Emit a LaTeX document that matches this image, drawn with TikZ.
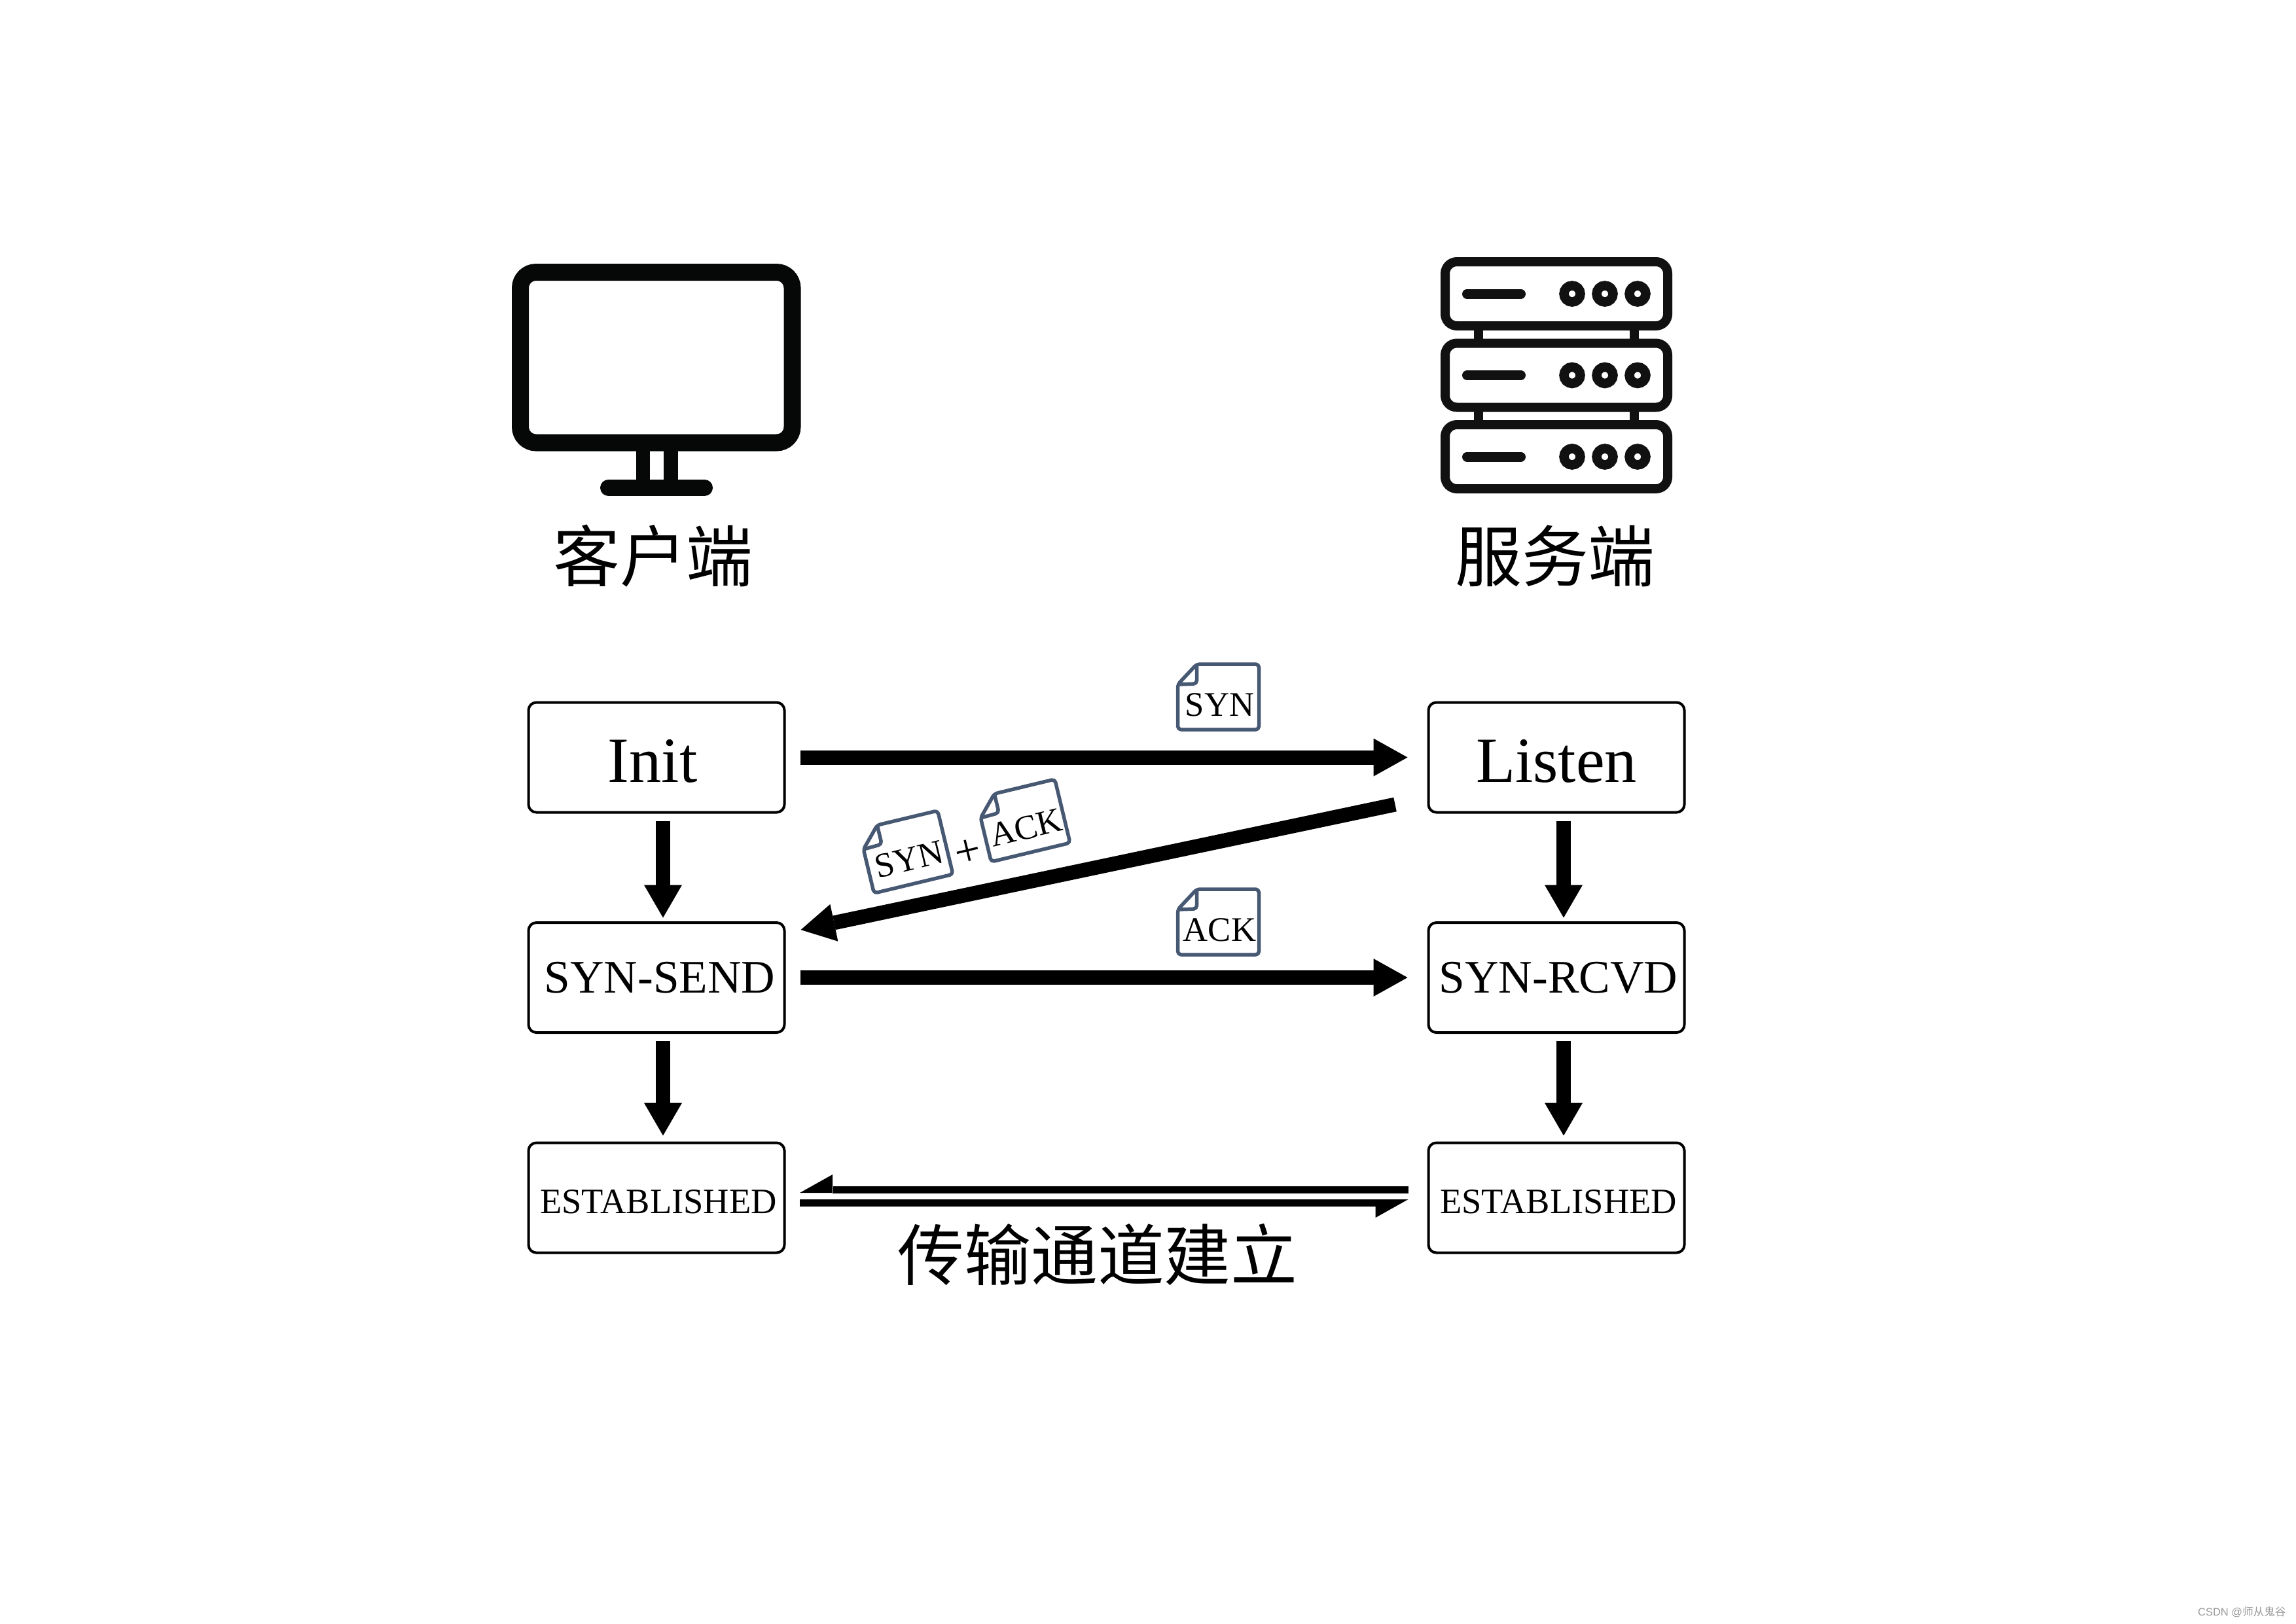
\documentclass[tikz,border=0pt]{standalone}
\usepackage{fontspec}
\setmainfont{Liberation Serif}
\newfontfamily\cjkfont{Noto Sans CJK SC}
\newfontfamily\marksans{Liberation Sans}
\newfontfamily\markcjk{Noto Sans CJK SC}
\usetikzlibrary{arrows.meta,positioning}
\definecolor{docblue}{HTML}{475872}
\definecolor{rackblack}{HTML}{111111}
\definecolor{screenblack}{HTML}{060807}

\tikzset{
  rack/.pic={
    \draw[line width=.14cm, rounded corners=.18cm] (-1.70,-.49) rectangle (1.70,.49);
    \draw[line width=.15cm, line cap=round] (-1.365,0) -- (-.545,0);
    \draw[line width=.145cm] (.24,0) circle (.125);
    \draw[line width=.145cm] (.74,0) circle (.125);
    \draw[line width=.145cm] (1.24,0) circle (.125);
  },
  doc/.pic={
    \draw[docblue, line width=.055cm, line join=round, rounded corners=.05cm]
      (-.62,.19) -- (-.33,.50) -- (.62,.50) -- (.62,-.50) -- (-.62,-.50) -- cycle;
    \draw[docblue, line width=.055cm, line join=round, rounded corners=.05cm]
      (-.33,.50) -- (-.33,.20) -- (-.62,.19);
    \node[transform shape, inner sep=0pt, font=\fontsize{15}{17}\selectfont] (-label) at (.02,-.12) {\tikzpictext};
  }
}

\begin{document}
\begin{tikzpicture}[
  node distance=1.685cm and 9.84cm,
  box/.style={draw, line width=.04cm, outer sep=0pt, inner sep=0pt, rounded corners=.12cm, minimum width=3.91cm, minimum height=1.68cm, align=center},
  bigtext/.style={text height=.76cm, text depth=0pt, font=\fontsize{28}{30}\selectfont},
  midtext/.style={font=\fontsize{20.3}{22}\selectfont},
  smalltext/.style={text height=.47cm, text depth=0pt, font=\fontsize{15.5}{17}\selectfont},
  title/.style={inner sep=0pt, font=\cjkfont\fontsize{29}{31}\selectfont},
  harr/.style={-{Triangle[length=.52cm, width=.58cm, line width=0pt]}, line width=.22cm, shorten <=.245cm, shorten >=.32cm},
  varr/.style={-{Triangle[length=.5cm, width=.58cm, line width=0pt]}, line width=.22cm, shorten <=.13cm, shorten >=.075cm},
  halfshaft/.style={line width=.1cm},
  halfhead/.style={-{Triangle[harpoon, swap, length=.5cm, width=.56cm, line width=0pt]}, line width=.1pt}
]
  \useasboundingbox (0,0) rectangle (35.08,-24.81);

  % monitor
  \draw[screenblack, line width=.26cm, rounded corners=.24cm] (7.95,-4.16) rectangle (12.105,-6.765);
  \draw[screenblack, line width=.21cm] (9.825,-6.89) -- (9.825,-7.40);
  \draw[screenblack, line width=.22cm] (10.245,-6.89) -- (10.245,-7.40);
  \draw[screenblack, line width=.25cm, line cap=round] (9.295,-7.455) -- (10.765,-7.455);
  \node[title] (client) at (9.98,-8.50) {客户端};

  % server
  \draw[rackblack, line width=.14cm] (22.59,-4.98) -- (22.59,-5.25);
  \draw[rackblack, line width=.14cm] (24.965,-4.98) -- (24.965,-5.25);
  \draw[rackblack, line width=.14cm] (22.59,-6.22) -- (22.59,-6.50);
  \draw[rackblack, line width=.14cm] (24.965,-6.22) -- (24.965,-6.50);
  \pic[rackblack] (rackone) at (23.78,-4.49) {rack};
  \pic[rackblack] (racktwo) at (23.78,-5.735) {rack};
  \pic[rackblack] (rackthree) at (23.78,-6.98) {rack};
  \node[title] (server) at (23.76,-8.50) {服务端};

  \node[box, bigtext] at (10.03,-11.575) (init) {Init\hspace{.12cm}};
  \node[box, bigtext, right=of init] (listen) {Listen};
  \node[box, midtext, below=of init] (synsend) {\hspace{.1cm}SYN-SEND};
  \node[box, midtext, below=of listen] (synrcvd) {\hspace{.06cm}SYN-RCVD};
  \node[box, smalltext, below=of synsend] (estclient) {\hspace{.06cm}ESTABLISHED};
  \node[box, smalltext, below=of synrcvd] (estserver) {\hspace{.06cm}ESTABLISHED};

  \draw[harr] (init) -- (listen);
  \draw[harr] (synsend) -- (synrcvd);
  \draw[harr, shorten <=0cm, shorten >=0cm] ([shift={(-.51,-.72)}]listen.west) -- ([shift={(.25,.73)}]synsend.east);

  \draw[varr] ([xshift=.1cm]init.south) -- ([xshift=.1cm]synsend.north);
  \draw[varr, shorten >=.11cm] ([xshift=.1cm]synsend.south) -- ([xshift=.1cm]estclient.north);
  \draw[varr] ([xshift=.11cm]listen.south) -- ([xshift=.11cm]synrcvd.north);
  \draw[varr, shorten >=.11cm] ([xshift=.11cm]synrcvd.south) -- ([xshift=.11cm]estserver.north);

  % double line between the two ESTABLISHED boxes
  \draw[halfshaft, shorten <=.31cm, shorten >=.74cm] ([yshift=.125cm]estserver.west) -- ([yshift=.125cm]estclient.east);
  \draw[halfhead, shorten <=.31cm, shorten >=.235cm] ([yshift=.075cm]estserver.west) -- ([yshift=.075cm]estclient.east);
  \draw[halfshaft, shorten <=.235cm, shorten >=.81cm] ([yshift=-.08cm]estclient.east) -- ([yshift=-.08cm]estserver.west);
  \draw[halfhead, shorten <=.235cm, shorten >=.31cm] ([yshift=-.025cm]estclient.east) -- ([yshift=-.025cm]estserver.west);
  \node[title] (channel) at (16.77,-19.17) {传输通道建立};

  % packets
  \pic[pic text=SYN] (docsyn) at (18.615,-10.65) {doc};
  \pic[pic text=ACK] (docack) at (18.615,-14.09) {doc};
  \pic[rotate=13.5, pic text=SYN] (docsynback) at (13.84,-13.02) {doc};
  \pic[rotate=13.5, pic text=ACK] (docackback) at (15.63,-12.54) {doc};
  \node[rotate=13.5, inner sep=0pt, font=\fontsize{20}{22}\selectfont] (plus) at (14.79,-13.04) {+};

  \node[anchor=east, inner sep=0pt, text=black!40, font=\marksans\fontsize{4.7}{6}\selectfont] (mark) at (34.93,-24.635) {CSDN @{\markcjk 师从鬼谷}};
\end{tikzpicture}
\end{document}
